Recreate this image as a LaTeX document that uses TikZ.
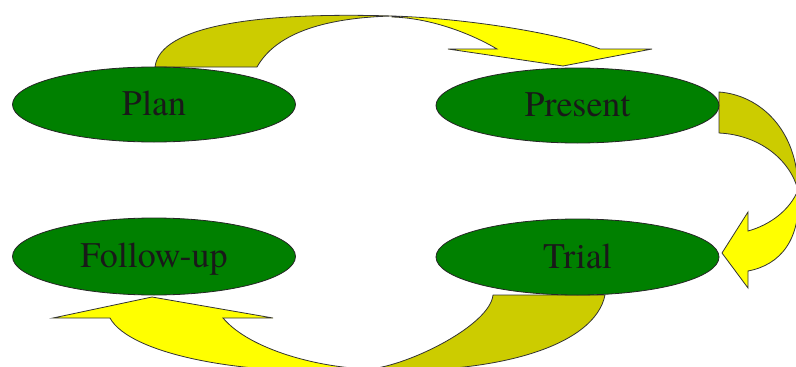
\documentclass[tikz,border=0pt]{standalone}
\usepackage{fontspec}
\setmainfont{texgyretermes-regular.otf}
\usetikzlibrary{shapes.geometric}
\definecolor{leafgreen}{RGB}{0,128,0}
\definecolor{darkyel}{RGB}{204,204,0}
\definecolor{brightyel}{RGB}{255,255,0}
\tikzset{
  phase/.style={ellipse, draw=black!85, line width=0.8pt, fill=leafgreen,
    minimum width=283pt, minimum height=75pt, inner sep=0pt,
    font=\fontsize{36}{42}\selectfont, text=black!90,
    text height=22pt, text depth=0pt},
  backband/.style={fill=darkyel, draw=black!80, line width=0.8pt, line join=round},
  frontband/.style={fill=brightyel, draw=black!80, line width=0.8pt, line join=miter},
}
\begin{document}
\begin{tikzpicture}[x=1pt,y=-1pt]
\path[use as bounding box] (0,0) rectangle (796,367);
\clip (0,0) rectangle (796,367);
\fill[white] (0,0) rectangle (796,367);

% top arrow: Plan -> Present
\draw[backband] (155,67) .. controls (160,25) and (260,12) .. (392,16)
  .. controls (320,18) and (275,35) .. (257,67) -- cycle;
\draw[frontband] (392,16) .. controls (460,18) and (555,32) .. (600,49)
  -- (652,49) -- (563,66) -- (448,49) -- (497,49)
  .. controls (470,33) and (430,18) .. (392,17) -- cycle;

% right arrow: Present -> Trial
\draw[backband] (719,92) .. controls (760,95) and (798,130) .. (798,190)
  .. controls (790,160) and (760,135) .. (719,133) -- cycle;
\draw[frontband] (798,190) .. controls (790,210) and (770,225) .. (748,231)
  -- (748,212) -- (722,253) -- (748,288) -- (748,271)
  .. controls (780,265) and (802,240) .. (798,190) -- cycle;

% bottom arrow: Trial -> Follow-up
\draw[backband] (370,369) .. controls (410,365) and (490,325) .. (493,295)
  -- (605,295) .. controls (595,345) and (500,375) .. (370,370) -- cycle;
\draw[frontband] (110,318) .. controls (130,355) and (250,378) .. (370,369)
  .. controls (320,368) and (250,350) .. (223,318)
  -- (273,318) -- (152,297) -- (53,318) -- cycle;

% phases
\node[phase] (plan) at (154,104.5) {Plan};
\node[phase] (present) at (577.5,105.5) {Present};
\node[phase, minimum height=77pt] (follow) at (154,256.5) {Follow-up};
\node[phase, minimum height=76pt] (trial) at (577.5,257) {Trial};
\end{tikzpicture}
\end{document}
